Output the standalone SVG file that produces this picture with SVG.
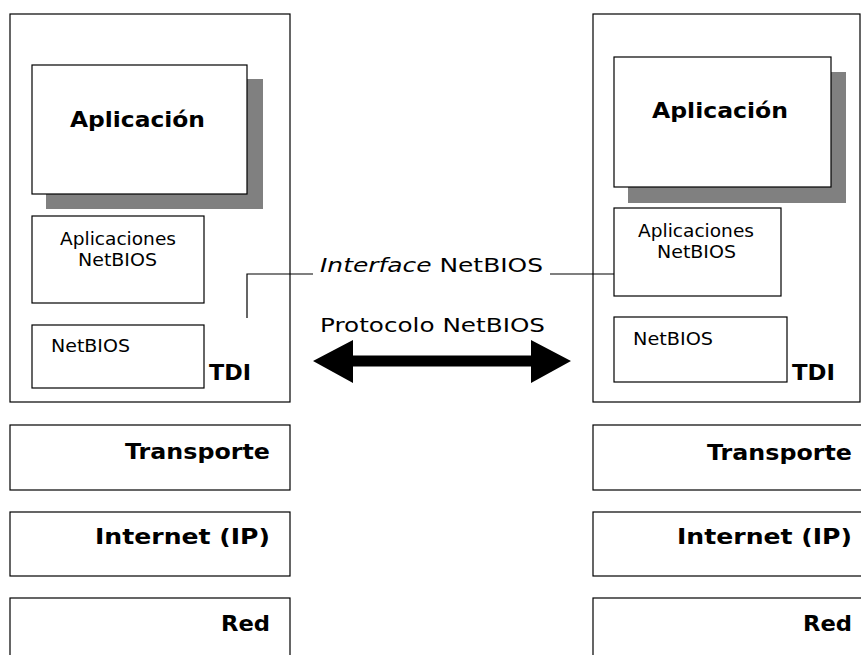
<svg xmlns="http://www.w3.org/2000/svg" width="861" height="655" viewBox="0 0 861 655">
<style>
.box{fill:#fff;stroke:#000;stroke-width:1.2}
.shadow{fill:#808080}
.t{font-family:"DejaVu Sans","Verdana",sans-serif;fill:#000}
.b{font-weight:bold}
.conn{fill:none;stroke:#000;stroke-width:1.2}
</style>
<rect width="861" height="655" fill="#fff"/>
<g id="left-host">
<rect class="box" x="10" y="14" width="280" height="388"/>
</g>
<g id="left-aplicacion">
<rect class="shadow" x="46" y="79" width="217" height="130"/>
<rect class="box" x="32" y="65" width="215" height="129"/>
<text class="t b" x="70" y="127" font-size="22" textLength="135" lengthAdjust="spacingAndGlyphs">Aplicación</text>
</g>
<g id="left-apps-netbios">
<rect class="box" x="32" y="216" width="172" height="87"/>
<text class="t" x="60" y="245" font-size="17" textLength="116" lengthAdjust="spacingAndGlyphs">Aplicaciones</text>
<text class="t" x="78" y="266" font-size="17" textLength="79" lengthAdjust="spacingAndGlyphs">NetBIOS</text>
</g>
<g id="left-netbios">
<rect class="box" x="32" y="325" width="172" height="63"/>
<text class="t" x="51" y="352" font-size="17" textLength="79" lengthAdjust="spacingAndGlyphs">NetBIOS</text>
</g>
<g id="left-tdi">
<text class="t b" x="209" y="380" font-size="22" textLength="42" lengthAdjust="spacingAndGlyphs">TDI</text>
</g>
<g id="left-transporte">
<rect class="box" x="10" y="425" width="280" height="65"/>
<text class="t b" x="270" y="459" font-size="22" text-anchor="end" textLength="145" lengthAdjust="spacingAndGlyphs">Transporte</text>
</g>
<g id="left-internet">
<rect class="box" x="10" y="512" width="280" height="64"/>
<text class="t b" x="270" y="544" font-size="22" text-anchor="end" textLength="175" lengthAdjust="spacingAndGlyphs">Internet (IP)</text>
</g>
<g id="left-red">
<rect class="box" x="10" y="598" width="280" height="70"/>
<text class="t b" x="270" y="631" font-size="22" text-anchor="end" textLength="49" lengthAdjust="spacingAndGlyphs">Red</text>
</g>

<g id="right-host">
<rect class="box" x="593" y="14" width="267" height="388"/>
</g>
<g id="right-aplicacion">
<rect class="shadow" x="628" y="72" width="218" height="131"/>
<rect class="box" x="614" y="57" width="217" height="130"/>
<text class="t b" x="652" y="118" font-size="22" textLength="136" lengthAdjust="spacingAndGlyphs">Aplicación</text>
</g>
<g id="right-apps-netbios">
<rect class="box" x="614" y="208" width="167" height="88"/>
<text class="t" x="638" y="237" font-size="17" textLength="116" lengthAdjust="spacingAndGlyphs">Aplicaciones</text>
<text class="t" x="657" y="258" font-size="17" textLength="79" lengthAdjust="spacingAndGlyphs">NetBIOS</text>
</g>
<g id="right-netbios">
<rect class="box" x="614" y="317" width="173" height="65"/>
<text class="t" x="633" y="345" font-size="17" textLength="80" lengthAdjust="spacingAndGlyphs">NetBIOS</text>
</g>
<g id="right-tdi">
<text class="t b" x="792" y="380" font-size="22" textLength="43" lengthAdjust="spacingAndGlyphs">TDI</text>
</g>
<g id="right-transporte">
<rect class="box" x="593" y="425" width="280" height="65"/>
<text class="t b" x="852" y="460" font-size="22" text-anchor="end" textLength="145" lengthAdjust="spacingAndGlyphs">Transporte</text>
</g>
<g id="right-internet">
<rect class="box" x="593" y="512" width="280" height="64"/>
<text class="t b" x="852" y="544" font-size="22" text-anchor="end" textLength="175" lengthAdjust="spacingAndGlyphs">Internet (IP)</text>
</g>
<g id="right-red">
<rect class="box" x="593" y="598" width="280" height="70"/>
<text class="t b" x="852" y="631" font-size="22" text-anchor="end" textLength="49" lengthAdjust="spacingAndGlyphs">Red</text>
</g>

<g id="connectors">
<polyline class="conn" points="247,318 247,274 313,274"/>
<line class="conn" x1="550" y1="274" x2="614" y2="274"/>
<text class="t" x="320" y="272" font-size="20" textLength="223" lengthAdjust="spacingAndGlyphs"><tspan font-style="italic">Interface</tspan> NetBIOS</text>
<text class="t" x="320" y="332" font-size="20" textLength="225" lengthAdjust="spacingAndGlyphs">Protocolo NetBIOS</text>
<polygon fill="#000" points="313,361 353,340 353,355.5 531,355.5 531,340 571,361 531,383 531,366.5 353,366.5 353,383"/>
</g>
</svg>
